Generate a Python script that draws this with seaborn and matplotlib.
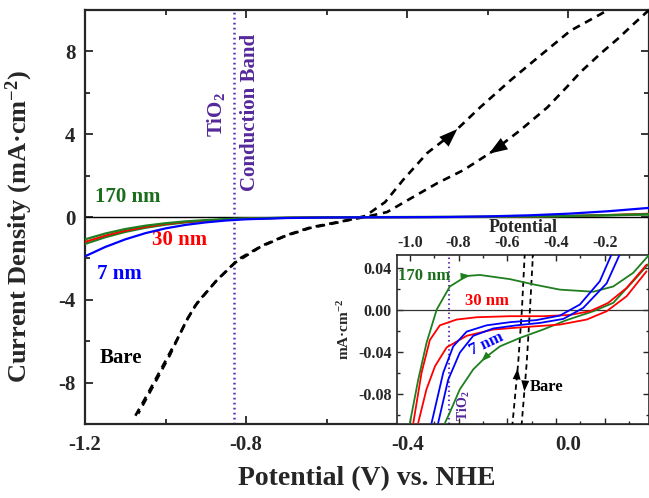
import numpy as np
import pandas as pd
import matplotlib
matplotlib.use("Agg")
import matplotlib.pyplot as plt
from matplotlib.ticker import MultipleLocator, FixedLocator
import seaborn as sns

# ---------------- data (main panel) ----------------
v_main = [-1.2, -1.15, -1.1, -1.05, -1.0, -0.95, -0.9, -0.85, -0.8, -0.7, -0.6, -0.5,
          -0.4, -0.3, -0.2, -0.1, 0.0, 0.1, 0.2]
j_7nm = [-1.9, -1.45, -1.08, -0.78, -0.55, -0.38, -0.26, -0.17, -0.11, -0.05, -0.025,
         -0.015, -0.01, 0.0, 0.03, 0.08, 0.16, 0.28, 0.44]
j_30nm = [-1.2, -0.9, -0.66, -0.48, -0.34, -0.24, -0.17, -0.12, -0.08, -0.04, -0.02,
          -0.01, -0.006, 0.0, 0.005, 0.02, 0.05, 0.1, 0.16]
j_170nm_a = [-1.08, -0.8, -0.58, -0.42, -0.3, -0.21, -0.15, -0.1, -0.07, -0.035, -0.015,
             -0.005, 0.0, 0.005, 0.01, 0.025, 0.05, 0.09, 0.14]
j_170nm_b = [-1.3, -0.98, -0.72, -0.52, -0.37, -0.26, -0.18, -0.12, -0.08, -0.04, -0.02,
             -0.01, -0.005, 0.0, 0.005, 0.02, 0.045, 0.08, 0.12]

bare_fwd_v = [-1.075, -1.046, -1.021, -0.996, -0.971, -0.948, -0.927, -0.877, -0.827,
              -0.765, -0.703, -0.641, -0.566, -0.504, -0.455, -0.41, -0.35, -0.286,
              -0.219, -0.144, -0.07, 0.005, 0.08, 0.14, 0.2]
bare_fwd_j = [-9.6, -8.6, -7.7, -6.8, -5.9, -5.0, -4.3, -3.14, -2.2, -1.45, -0.92,
              -0.53, -0.24, 0.05, 0.72, 1.8, 3.1, 4.06, 5.3, 6.6, 7.8, 9.0, 9.8, 10.5,
              11.2]
bare_rev_v = [0.2, 0.166, 0.122, 0.08, 0.03, -0.003, -0.052, -0.119, -0.186, -0.26,
              -0.325, -0.385, -0.45, -0.5, -0.56, -0.64, -0.70, -0.76, -0.82, -0.87,
              -0.92, -0.945, -0.968, -0.99, -1.015, -1.04, -1.068]
bare_rev_j = [10.0, 9.4, 8.6, 7.9, 7.0, 6.3, 5.3, 4.2, 3.2, 2.27, 1.64, 0.97, 0.24, 0.02,
              -0.2, -0.5, -0.88, -1.38, -2.05, -3.0, -4.1, -4.9, -5.8, -6.7, -7.6, -8.5,
              -9.5]
bare_fwd_arrow = 17
bare_rev_arrow = 8

tio2_cb = -0.83

# ---------------- data (inset) ----------------
in_170_fwd_v = [-1.0, -0.966, -0.932, -0.890, -0.836, -0.767, -0.713, -0.589, -0.493,
                -0.384, -0.247, -0.165, -0.083, -0.018]
in_170_fwd_j = [-0.108, -0.067, -0.032, 0.0, 0.022, 0.032, 0.033, 0.029, 0.024, 0.019,
                0.017, 0.022, 0.035, 0.052]
in_170_rev_v = [-0.018, -0.083, -0.165, -0.247, -0.356, -0.453, -0.548, -0.630, -0.692,
                -0.740, -0.795, -0.836, -0.856]
in_170_rev_j = [0.044, 0.027, 0.0064, -0.0016, -0.010, -0.019, -0.027, -0.035, -0.046,
                -0.057, -0.076, -0.098, -0.108]
in_30_fwd_v = [-0.986, -0.952, -0.918, -0.877, -0.808, -0.726, -0.589, -0.453, -0.343,
               -0.261, -0.186, -0.110, -0.028]
in_30_fwd_j = [-0.108, -0.060, -0.029, -0.015, -0.0095, -0.0073, -0.0063, -0.0063,
               -0.0051, -0.0016, 0.0063, 0.0206, 0.0428]
in_30_rev_v = [-0.028, -0.110, -0.192, -0.274, -0.384, -0.521, -0.658, -0.767, -0.849,
               -0.897, -0.932, -0.966]
in_30_rev_j = [0.0365, 0.0127, -0.0016, -0.0095, -0.0143, -0.0165, -0.019, -0.025,
               -0.036, -0.054, -0.076, -0.108]
in_7_a_v = [-0.911, -0.863, -0.822, -0.767, -0.685, -0.589, -0.480, -0.384, -0.302,
            -0.220, -0.145, -0.124]
in_7_a_j = [-0.108, -0.060, -0.035, -0.021, -0.015, -0.012, -0.010, -0.0057, 0.0048,
            0.027, 0.067, 0.079]
in_7_b_v = [-0.884, -0.843, -0.795, -0.740, -0.658, -0.562, -0.466, -0.370, -0.288,
            -0.192, -0.110, -0.095]
in_7_b_j = [-0.108, -0.067, -0.041, -0.025, -0.018, -0.015, -0.0127, -0.0089, 0.0016,
            0.025, 0.067, 0.075]
in_bare_up_v = [-0.58, -0.555, -0.54, -0.528]
in_bare_up_j = [-0.112, -0.05, 0.0, 0.055]
in_bare_dn_v = [-0.494, -0.507, -0.52, -0.542]
in_bare_dn_j = [0.055, 0.0, -0.05, -0.112]
in_170_fwd_arrow = 5
in_170_rev_arrow = 8
in_bare_up_arrow = 0
in_bare_dn_arrow = 2
in_tio2_cb = -0.84

# ---------------- style ----------------
sns.set_style("ticks")
plt.rcParams["font.family"] = ["Liberation Serif", "DejaVu Serif"]
plt.rcParams["font.weight"] = "bold"
plt.rcParams["axes.labelweight"] = "bold"
plt.rcParams["mathtext.fontset"] = "custom"
plt.rcParams["mathtext.rm"] = "Liberation Serif:bold"
plt.rcParams["mathtext.it"] = "Liberation Serif:italic:bold"
plt.rcParams["mathtext.bf"] = "Liberation Serif:bold"
plt.rcParams["axes.unicode_minus"] = False

GREEN = "#1f7f1f"
GREEN_T = "#1b6e1b"
RED = "#ff0000"
BLUE = "#0000ff"
PURPLE = "#55289a"
PURPLE_L = "#5f30b8"


def head(ax, xs, ys, i, color, scale, t=0.25):
    x0, y0 = xs[i], ys[i]
    x1 = xs[i] + t * (xs[i + 1] - xs[i])
    y1 = ys[i] + t * (ys[i + 1] - ys[i])
    ax.annotate("", xy=(x1, y1), xytext=(x0, y0),
                arrowprops=dict(arrowstyle="-|>,head_length=0.6,head_width=0.22",
                                color=color, lw=0, shrinkA=0, shrinkB=0,
                                mutation_scale=scale), zorder=5)


fig = plt.figure(figsize=(6.49, 4.98), dpi=100)
ax = fig.add_axes([85 / 649, 74 / 498, 564 / 649, 414 / 498])

ax.axhline(0, color="black", lw=1.0, zorder=1)
ax.axvline(tio2_cb, color=PURPLE_L, lw=1.8, linestyle=(0, (0.7, 1.3)), zorder=2)

sns.lineplot(x=bare_fwd_v, y=bare_fwd_j, ax=ax, color="black", lw=1.9, sort=False,
             estimator=None, linestyle=(0, (3.0, 2.2)), zorder=3)
sns.lineplot(x=bare_rev_v, y=bare_rev_j, ax=ax, color="black", lw=1.9, sort=False,
             estimator=None, linestyle=(0, (3.0, 2.2)), zorder=3)
head(ax, bare_fwd_v, bare_fwd_j, bare_fwd_arrow, "black", 22, t=0.15)
head(ax, bare_rev_v, bare_rev_j, bare_rev_arrow, "black", 22, t=0.15)

sns.lineplot(x=v_main, y=j_170nm_b, ax=ax, color=GREEN, lw=1.6, sort=False, estimator=None, zorder=4)
sns.lineplot(x=v_main, y=j_30nm, ax=ax, color=RED, lw=1.4, sort=False, estimator=None, zorder=4)
sns.lineplot(x=v_main, y=j_170nm_a, ax=ax, color=GREEN, lw=1.6, sort=False, estimator=None, zorder=4)
sns.lineplot(x=v_main, y=j_7nm, ax=ax, color=BLUE, lw=1.6, sort=False, estimator=None, zorder=4)

ax.set_xlim(-1.2, 0.2)
ax.set_ylim(-10, 10)
ax.xaxis.set_major_locator(FixedLocator([-1.2, -0.8, -0.4, 0.0]))
ax.xaxis.set_minor_locator(MultipleLocator(0.2))
ax.yaxis.set_major_locator(MultipleLocator(4))
ax.yaxis.set_minor_locator(MultipleLocator(2))
ax.set_xticklabels(["-1.2", "-0.8", "-0.4", "0.0"])
ax.tick_params(which="both", direction="in", top=True, right=True, width=1.3,
               labelsize=15)
ax.tick_params(which="major", length=6)
ax.tick_params(which="minor", length=3.5)
ax.tick_params(axis="x", pad=8)
ax.tick_params(axis="y", pad=7)
for s in ax.spines.values():
    s.set_linewidth(1.6)
ax.set_xlabel("Potential (V) vs. NHE", fontsize=20, fontweight="bold", labelpad=8)
ax.set_ylabel("Current Density (mA\u00b7cm$^{-2}$)", fontsize=19, fontweight="bold")
ax.yaxis.set_label_coords(-0.088, 0.476)

tk = dict(fontsize=15, fontweight="bold", va="center", ha="left")
ax.text(-1.175, 0.95, "170 nm", color=GREEN_T, **tk)
ax.text(-1.034, -1.1, "30 nm", color=RED, **tk)
ax.text(-1.17, -2.75, "7 nm", color=BLUE, **tk)
ax.text(-1.163, -6.8, "Bare", color="black", **tk)
ax.text(-0.876, 4.93, "TiO$_2$", color=PURPLE, fontsize=15, fontweight="bold",
        rotation=90, ha="center", va="center")
ax.text(-0.79, 5.07, "Conduction Band", color=PURPLE, fontsize=15, fontweight="bold",
        rotation=90, ha="center", va="center")

# ---------------- inset ----------------
axin = fig.add_axes([397 / 649, 74 / 498, 252 / 649, 169 / 498])
axin.set_facecolor("white")
axin.axhline(0, color="#333333", lw=0.9, zorder=1)
axin.axvline(in_tio2_cb, color=PURPLE_L, lw=1.5, linestyle=(0, (0.7, 1.5)), zorder=2)

sns.lineplot(x=in_bare_up_v, y=in_bare_up_j, ax=axin, color="black", lw=1.3, sort=False,
             estimator=None, linestyle=(0, (3.0, 2.2)), zorder=3)
sns.lineplot(x=in_bare_dn_v, y=in_bare_dn_j, ax=axin, color="black", lw=1.3, sort=False,
             estimator=None, linestyle=(0, (3.0, 2.2)), zorder=3)
head(axin, in_bare_up_v, in_bare_up_j, in_bare_up_arrow, "black", 13, t=0.9)
head(axin, in_bare_dn_v, in_bare_dn_j, in_bare_dn_arrow, "black", 13, t=0.45)

for xs, ys, c in [(in_170_fwd_v, in_170_fwd_j, GREEN), (in_170_rev_v, in_170_rev_j, GREEN),
                  (in_30_fwd_v, in_30_fwd_j, RED), (in_30_rev_v, in_30_rev_j, RED),
                  (in_7_a_v, in_7_a_j, BLUE), (in_7_b_v, in_7_b_j, BLUE)]:
    sns.lineplot(x=xs, y=ys, ax=axin, color=c, lw=1.3, sort=False, estimator=None, zorder=4)
head(axin, in_170_fwd_v, in_170_fwd_j, in_170_fwd_arrow, GREEN, 12, t=0.3)
head(axin, in_170_rev_v, in_170_rev_j, in_170_rev_arrow, GREEN, 12, t=0.3)

axin.set_xlim(-1.053, -0.018)
axin.set_ylim(-0.109, 0.052)
axin.xaxis.set_major_locator(FixedLocator([-1.0, -0.8, -0.6, -0.4, -0.2]))
axin.xaxis.set_minor_locator(MultipleLocator(0.1))
axin.yaxis.set_major_locator(FixedLocator([-0.08, -0.04, 0.0, 0.04]))
axin.yaxis.set_minor_locator(MultipleLocator(0.02))
axin.set_xticklabels(["-1.0", "-0.8", "-0.6", "-0.4", "-0.2"])
axin.set_yticklabels(["-0.08", "-0.04", "0.00", "0.04"])
axin.tick_params(which="both", direction="in", top=True, bottom=True, left=True,
                 right=True, labeltop=True, labelbottom=False, width=1.0, labelsize=11.5)
axin.tick_params(which="major", length=4)
axin.tick_params(which="minor", length=2.5)
axin.tick_params(axis="x", pad=3)
axin.tick_params(axis="y", pad=4)
for s in axin.spines.values():
    s.set_linewidth(1.2)
axin.xaxis.set_label_position("top")
axin.set_xlabel("Potential", fontsize=13, fontweight="bold", labelpad=2)
axin.set_ylabel("mA\u00b7cm$^{-2}$", fontsize=11, fontweight="bold")
axin.yaxis.set_label_coords(-0.18, 0.56)

ti = dict(fontsize=12, fontweight="bold", va="center", ha="center")
axin.text(-0.943, 0.032, "170 nm", color=GREEN_T, **ti)
axin.text(-0.685, 0.008, "30 nm", color=RED, **ti)
axin.text(-0.686, -0.033, "7 nm", color=BLUE, rotation=25, **ti)
axin.text(-0.44, -0.074, "Bare", color="black", **ti)
axin.text(-0.78, -0.092, "TiO$_2$", color=PURPLE, fontsize=10, fontweight="bold",
          rotation=90, ha="center", va="center")

fig.savefig("out.png", dpi=100)
